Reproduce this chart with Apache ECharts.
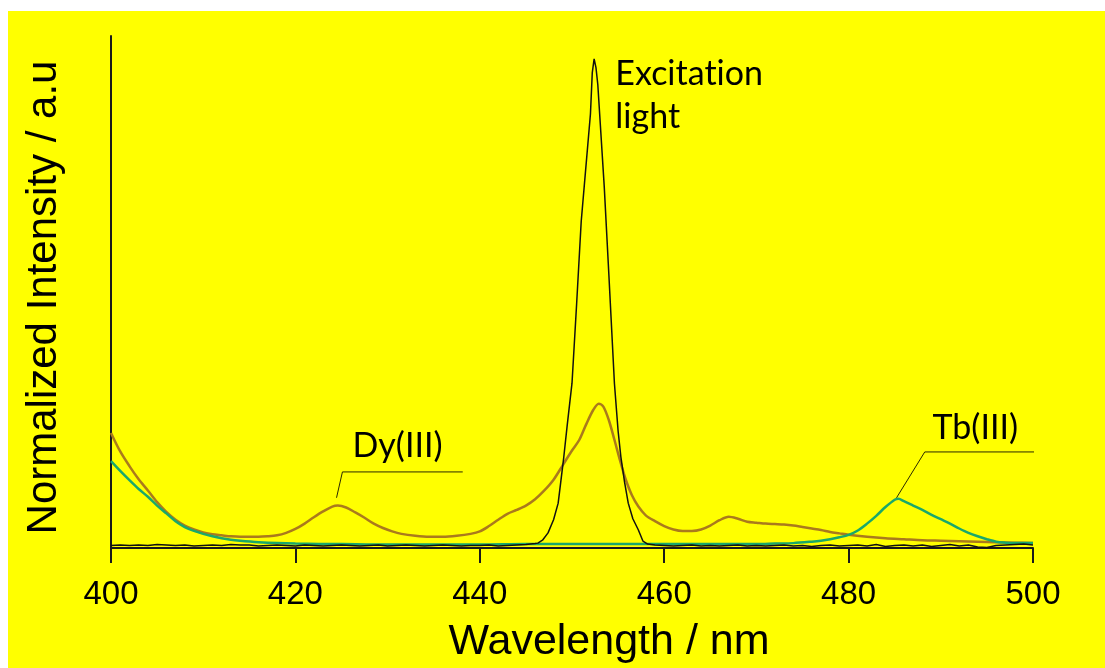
<!DOCTYPE html>
<html>
<head>
<meta charset="utf-8">
<script src="https://cdn.jsdelivr.net/npm/echarts@6/dist/echarts.min.js"></script>
<style>
    html, body { margin: 0; padding: 0; background: #fff; }
    #bg { position: absolute; left: 8px; top: 11px; right: 0; bottom: 0; background: #ffff00; }
    #main { position: absolute; left: 0; top: 0; width: 1105px; height: 668px; }
</style>
</head>
<body>
<div id="bg"></div>
<div id="main"></div>
<script>
// excitation light (black)
const excX = [400, 401, 402, 403, 404, 405, 406, 407, 408, 409, 410, 411, 412, 413, 414, 415, 416, 417, 418, 419,
    420, 421, 422, 423, 424, 425, 426, 427, 428, 429, 430, 431, 432, 433, 434, 435, 436, 437, 438, 439,
    440, 441, 442, 443, 444, 445, 445.5, 446, 446.3, 446.8, 447.4, 448, 448.5, 449.1, 449.5, 450, 450.5,
    451, 451.5, 452, 452.2, 452.4, 452.6, 452.8, 453, 453.5, 454, 454.6, 455, 455.3, 455.7, 456.1, 456.6,
    457.2, 457.7, 458.2, 459, 460, 461, 462, 463, 464, 465, 466, 467, 468, 469, 470, 471, 472, 473, 474,
    475, 476, 477, 478, 479, 480, 481, 482, 483, 484, 485, 486, 487, 488, 489, 490, 491, 492, 493, 494,
    495, 496, 497, 498, 499, 500]
const excY = [0.005, 0.006, 0.005, 0.006, 0.005, 0.007, 0.006, 0.005, 0.006, 0.004, 0.005, 0.006, 0.005, 0.007, 0.006, 0.006, 0.004, 0.005, 0.006, 0.005,
    0.004, 0.006, 0.005, 0.004, 0.005, 0.006, 0.005, 0.004, 0.005, 0.006, 0.004, 0.005, 0.006, 0.005, 0.004, 0.005, 0.006, 0.005, 0.004, 0.005,
    0.005, 0.006, 0.004, 0.005, 0.006, 0.007, 0.008, 0.009, 0.010, 0.016, 0.031, 0.058, 0.092, 0.185, 0.255, 0.338, 0.500,
    0.670, 0.780, 0.890, 0.975, 1.003, 0.985, 0.950, 0.890, 0.740, 0.560, 0.338, 0.240, 0.187, 0.135, 0.092, 0.060,
    0.037, 0.014, 0.008, 0.006, 0.005, 0.004, 0.005, 0.006, 0.004, 0.005, 0.004, 0.005, 0.006, 0.004, 0.005, 0.004, 0.005, 0.006, 0.004,
    0.005, 0.003, 0.005, 0.006, 0.004, 0.005, 0.006, 0.004, 0.007, 0.003, 0.005, 0.006, 0.004, 0.006, 0.003, 0.005, 0.007, 0.004, 0.006,
    0.002, 0.001, 0.005, 0.006, 0.007, 0.008, 0.006]

// Dy(III) sample (brown)
const dyX = [400, 401, 402, 403, 404, 405, 406, 407, 408, 409, 410, 411, 412, 413, 414, 415, 416, 417, 418, 419,
    420, 421, 422, 423, 424, 424.6, 425.5, 426.5, 427.5, 428.5, 429.5, 430.5, 431.5, 433, 434.5, 436, 437.5, 439,
    440, 441, 442, 443, 444, 445, 446, 447, 448, 449, 450, 450.8, 451.5, 452.3, 452.9, 453.4, 454, 454.6, 455.2,
    455.8, 456.5, 457.2, 458, 459, 460, 461, 462, 463, 464, 465, 466, 467, 468, 469, 470, 471, 472, 473, 474,
    475, 476, 477, 478, 479, 480, 482, 484, 486, 488, 490, 492, 494, 496, 498, 500]
const dyY = [0.236, 0.198, 0.168, 0.141, 0.118, 0.094, 0.074, 0.058, 0.046, 0.038, 0.032, 0.028, 0.026, 0.024, 0.023, 0.023, 0.023, 0.024, 0.026, 0.031,
    0.039, 0.050, 0.063, 0.075, 0.085, 0.087, 0.083, 0.073, 0.062, 0.050, 0.041, 0.034, 0.029, 0.025, 0.023, 0.023, 0.025, 0.029,
    0.034, 0.045, 0.058, 0.070, 0.078, 0.087, 0.100, 0.118, 0.140, 0.170, 0.200, 0.222, 0.252, 0.283, 0.296, 0.290, 0.262, 0.222, 0.180,
    0.142, 0.108, 0.085, 0.067, 0.055, 0.045, 0.038, 0.035, 0.035, 0.038, 0.046, 0.057, 0.064, 0.060, 0.054, 0.052, 0.050, 0.049, 0.048, 0.046,
    0.043, 0.040, 0.037, 0.033, 0.030, 0.027, 0.023, 0.020, 0.018, 0.016, 0.015, 0.014, 0.013, 0.012, 0.011, 0.010]

// Tb(III) sample (green)
const tbX = [400, 401, 402, 403, 404, 405, 406, 407, 408, 409, 410, 411, 412, 413, 414, 416, 418, 420, 425, 430,
    435, 440, 445, 450, 455, 460, 465, 470, 472, 474, 476, 477, 478, 479, 480, 481, 482, 483, 484, 485, 485.4,
    486, 487, 488, 489, 490, 491, 492, 493, 494, 495, 496, 497, 498, 500]
const tbY = [0.178, 0.158, 0.139, 0.121, 0.105, 0.087, 0.071, 0.055, 0.043, 0.035, 0.029, 0.024, 0.020, 0.017, 0.015, 0.012, 0.010, 0.009, 0.008, 0.007,
    0.007, 0.007, 0.008, 0.008, 0.008, 0.008, 0.008, 0.008, 0.009, 0.010, 0.013, 0.015, 0.018, 0.022, 0.027, 0.036, 0.050, 0.066, 0.084, 0.099, 0.101,
    0.096, 0.087, 0.078, 0.068, 0.059, 0.050, 0.040, 0.031, 0.024, 0.018, 0.013, 0.011, 0.010, 0.010]

// annotation text and leader lines
// (zero-width non-joiner keeps Lato from drawing a "ti" ligature)
const annText = ['Dy(III)', 'Tb(III)', 'Excitat\u200Cion\nlight']
const annX = [426.2, 489.1, 454.7]
const annY = [0.209, 0.246, 0.927]
const dyLeader = [[424.46, 0.103], [425.1, 0.156], [438.15, 0.156]]
const tbLeader = [[485.2, 0.103], [488.26, 0.197], [500.65, 0.197]]

const xTicks = [400, 420, 440, 460, 480, 500]

function pairs(xs, ys) {
    return xs.map((x, i) => [x, ys[i]])
}

var myChart = echarts.init(document.getElementById('main'));

option = {
    animation: false,
    grid: {
        left: 111,
        right: 72,
        top: 36,
        bottom: 120,
        containLabel: false,
        outerBoundsMode: 'none'
    },
    xAxis: {
        type: 'value',
        min: xTicks[0],
        max: xTicks[xTicks.length - 1],
        interval: 20,
        name: 'Wavelength / nm',
        nameLocation: 'middle',
        nameGap: 73,
        nameTextStyle: {
            fontFamily: 'Liberation Sans',
            fontSize: 43,
            color: '#000',
            padding: [0, 0, 0, 74]
        },
        axisLine: { onZero: false, lineStyle: { color: '#1a1a1a', width: 2 } },
        axisTick: { length: 15, lineStyle: { color: '#1a1a1a', width: 2 } },
        axisLabel: {
            margin: 30,
            fontFamily: 'Liberation Sans',
            fontSize: 33,
            color: '#000'
        },
        splitLine: { show: false }
    },
    yAxis: {
        type: 'value',
        min: 0,
        max: 1.05,
        name: 'Normalized Intensity / a.u',
        nameLocation: 'middle',
        nameGap: 46,
        nameTextStyle: {
            fontFamily: 'Liberation Sans',
            fontSize: 42,
            color: '#000',
            padding: [0, 11, 0, 0]
        },
        axisLine: { show: true, lineStyle: { color: '#1a1a1a', width: 2 } },
        axisTick: { show: false },
        axisLabel: { show: false },
        splitLine: { show: false }
    },
    series: [{
        name: 'Dy(III)',
        type: 'line',
        data: pairs(dyX, dyY),
        smooth: 0.3,
        showSymbol: false,
        lineStyle: { color: '#aa7a1c', width: 2.5 },
        z: 3
    }, {
        name: 'Tb(III)',
        type: 'line',
        data: pairs(tbX, tbY),
        smooth: 0.3,
        showSymbol: false,
        lineStyle: { color: '#1aa86a', width: 2.5 },
        z: 4
    }, {
        name: 'Excitation light',
        type: 'line',
        data: pairs(excX, excY),
        showSymbol: false,
        lineStyle: { color: '#111', width: 1.5 },
        z: 5
    }, {
        type: 'line',
        data: dyLeader,
        showSymbol: false,
        clip: false,
        lineStyle: { color: '#2a2a00', width: 1 },
        z: 6
    }, {
        type: 'line',
        data: tbLeader,
        showSymbol: false,
        clip: false,
        lineStyle: { color: '#2a2a00', width: 1 },
        z: 6
    }, {
        type: 'scatter',
        data: annX.map((x, i) => [x, annY[i], annText[i]]),
        symbolSize: 0,
        clip: false,
        itemStyle: { opacity: 1 },
        label: {
            show: true,
            position: 'right',
            distance: 0,
            formatter: p => p.data[2],
            fontFamily: 'Lato',
            fontSize: 34,
            lineHeight: 43,
            color: '#000'
        },
        z: 7
    }]
};

myChart.setOption(option);
</script>
</body>
</html>
